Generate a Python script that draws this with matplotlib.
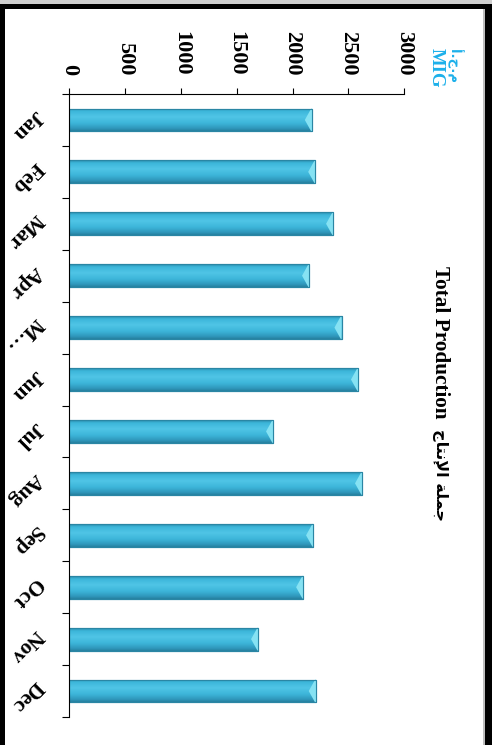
import numpy as np
import matplotlib
matplotlib.use("Agg")
import matplotlib.pyplot as plt
from matplotlib.patches import Polygon, Rectangle
from matplotlib.colors import LinearSegmentedColormap

# ---- data -------------------------------------------------------------
months = ["Jan", "Feb", "Mar", "Apr", "M\u2026", "Jun",
          "Jul", "Aug", "Sep", "Oct", "Nov", "Dec"]
production = [2175, 2205, 2365, 2150, 2440, 2588,
              1828, 2624, 2186, 2097, 1694, 2210]
value_ticks = [0, 500, 1000, 1500, 2000, 2500, 3000]

title_en = "Total Production"
# Arabic written in visual (left-to-right) order with presentation forms
title_ar = "\uFE9D\uFE8E\uFE98\uFEE7\uFEF9\uFE8D \uFE94\uFEE0\uFEE4\uFE9F"
unit_ar = "\uFE83.\uFE9D.\uFEE1"
unit_en = "MIG"

# ---- style ------------------------------------------------------------
plt.rcParams["font.family"] = ["Liberation Serif", "DejaVu Sans"]
plt.rcParams["font.weight"] = "bold"

W, H = 492, 745
fig = plt.figure(figsize=(W / 100, H / 100), dpi=100)
fig.patch.set_facecolor("white")

ax = fig.add_axes([69 / W, 1 - 717 / H, (404.3 - 69) / W, (717 - 94) / H])

pos = np.arange(len(months))
bar_h = 0.44
bars = ax.barh(pos, production, height=bar_h, color="#3ab4d6",
               edgecolor="#2a86a4", linewidth=0.8, zorder=2)

# vertical shading across each bar's thickness
shade = LinearSegmentedColormap.from_list(
    "bar_shade",
    [(0.0, "#2c8cac"), (0.12, "#3cb6da"), (0.38, "#50c5e6"),
     (0.65, "#3db6da"), (0.88, "#3099bd"), (1.0, "#26809f")])
grad = np.linspace(0, 1, 64).reshape(-1, 1)
cap_w = 65  # width of the bevelled end, in value units
for patch, val, p in zip(bars.patches, production, pos):
    x0, y0 = patch.get_x(), patch.get_y()
    w, h = patch.get_width(), patch.get_height()
    im = ax.imshow(grad, cmap=shade, aspect="auto", origin="upper",
                   extent=(x0, x0 + w, y0 + h, y0), zorder=2.1,
                   interpolation="bilinear")
    im.set_clip_path(patch)
    cap = Polygon([(val - cap_w, p), (val - 8, p - h / 2), (val, p - h / 2),
                   (val, p + h / 2), (val - 8, p + h / 2)],
                  closed=True, facecolor="#86e2f3", edgecolor="none",
                  zorder=2.2)
    ax.add_patch(cap)
    edge = Rectangle((x0, y0), w, h, facecolor="none",
                     edgecolor="#2a86a4", linewidth=0.8, zorder=2.3)
    ax.add_patch(edge)

ax.set_xlim(0, 3000)
ax.set_ylim(len(months) - 0.5, -0.5)

# value axis on top
ax.xaxis.tick_top()
ax.set_xticks(value_ticks)
ax.set_xticklabels([str(v) for v in value_ticks])
ax.tick_params(axis="x", which="major", direction="out", length=4.3,
               width=0.8, pad=9, labelsize=16, labelrotation=-90)

# category axis on the left
ax.set_yticks(pos)
ax.set_yticks(np.arange(-0.5, len(months)), minor=True)
ax.set_yticklabels(months)
ax.tick_params(axis="y", which="major", length=0, pad=16.5, labelsize=15.5)
ax.tick_params(axis="y", which="minor", direction="out", length=5,
               width=0.8)
plt.setp(ax.get_yticklabels(), rotation=-135, ha="left", va="top",
         rotation_mode="anchor")

for side in ("right", "bottom"):
    ax.spines[side].set_visible(False)
for side in ("top", "left"):
    ax.spines[side].set_linewidth(0.8)
    ax.spines[side].set_color("black")

# title (English and Arabic parts) and unit
fig.text(440 / W, 1 - 342 / H, title_en, rotation=-90,
         ha="center", va="center", fontsize=15.3, fontweight="bold")
fig.text(440 / W, 1 - 475 / H, title_ar, rotation=-90,
         ha="center", va="center", fontsize=11.5, fontweight="bold",
         family=["DejaVu Sans"])
fig.text(436 / W, 1 - 68 / H, unit_en, rotation=-90, ha="center",
         va="center", fontsize=13.5, fontweight="bold", color="#1cb0ea")
fig.text(454 / W, 1 - 66 / H, unit_ar, rotation=-90, ha="center",
         va="center", fontsize=9.5, fontweight="bold", color="#1cb0ea",
         family=["DejaVu Sans"])

# outer frame
def band(x0, y0, x1, y1, color):
    fig.add_artist(Rectangle((x0 / W, 1 - y1 / H), (x1 - x0) / W,
                             (y1 - y0) / H, transform=fig.transFigure,
                             facecolor=color, edgecolor="none"))

band(0, 0, W, 4, "#cfcfcf")
band(0, 4, W, 9, "black")
band(0, 4, 5, H, "black")
band(483, 9, 485, H, "#bdbdbd")
band(485, 4, W, H, "black")

fig.savefig("out.png", dpi=100, facecolor="white")
